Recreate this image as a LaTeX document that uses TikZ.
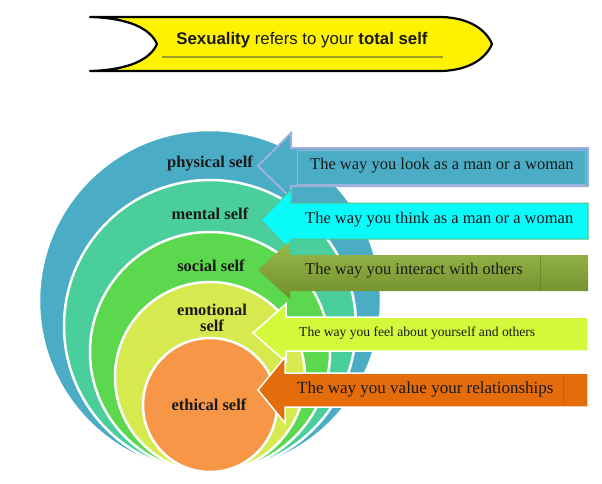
\documentclass[tikz,border=0pt]{standalone}
\usepackage{fontspec}
\setmainfont{Liberation Serif}
\newfontfamily\bannerfont{Liberation Sans}
\definecolor{SelfBlue}{RGB}{75, 172, 198}
\definecolor{SelfTeal}{RGB}{74, 206, 155}
\definecolor{SelfGreen}{RGB}{92, 216, 78}
\definecolor{SelfLime}{RGB}{214, 234, 80}
\definecolor{SelfOrange}{RGB}{247, 150, 70}
\definecolor{CalloutEdge}{RGB}{157, 177, 220}
\definecolor{CalloutCyan}{RGB}{10, 250, 250}
\definecolor{CalloutCyanEdge}{RGB}{80, 196, 140}
\definecolor{CalloutOliveTop}{RGB}{154, 186, 76}
\definecolor{CalloutOliveBottom}{RGB}{112, 142, 44}
\definecolor{CalloutLime}{RGB}{212, 248, 58}
\definecolor{CalloutOrange}{RGB}{228, 108, 10}
\definecolor{BannerLine}{RGB}{160, 158, 40}
\definecolor{TextDark}{RGB}{26, 26, 26}
\usetikzlibrary{positioning}

\tikzset{
  ring/.style={draw=white, line width=2.5pt},
  selflabel/.style={font=\bfseries\fontsize{16.5}{17}\selectfont, text=TextDark, align=center, inner sep=0pt},
  waytext/.style={font=\fontsize{16.5}{18}\selectfont, text=TextDark, anchor=west, inner sep=0pt},
}

\begin{document}
\begin{tikzpicture}[x=1pt, y=-1pt]
    \useasboundingbox (0,0) rectangle (602,484);

    \draw[fill=yellow, draw=black, line width=2.2pt, line join=round]
      (90,17) .. controls (128,18) and (150,28) .. (157,44)
      .. controls (150,60) and (128,70) .. (90,71)
      -- (442,71) .. controls (470,70) and (486,58) .. (492,44)
      .. controls (486,30) and (470,18) .. (442,17) -- cycle;
    \node[font=\bannerfont\fontsize{16.8}{18}\selectfont, text=TextDark, inner sep=0pt] (title) at (302,40)
      {\textbf{Sexuality} refers to your \textbf{total self}};
    \draw[BannerLine, line width=1.5pt] (162,57) -- (443,57);

    \fill[SelfBlue, ring] (210,301) circle[radius=171pt];
    \fill[SelfTeal, ring] (210,326) circle[radius=146pt];
    \fill[SelfGreen, ring] (210,352) circle[radius=120pt];
    \fill[SelfLime, ring] (210,377) circle[radius=95pt];
    \fill[SelfOrange, ring] (210,405) circle[radius=67pt];

    \node[selflabel] (physical) at (210,163) {physical self};
    \node[selflabel] (mental) at (210,214) {mental self};
    \node[selflabel] (social) at (211,266) {social self};
    \node[selflabel] (emotional) at (212,318) {emotional\\[-1pt]self};
    \node[selflabel] (ethical) at (209,405) {ethical self};

    \draw[fill=SelfBlue, draw=CalloutEdge, line width=2pt, line join=miter]
      (258,166) -- (291,133) -- (291,148) -- (588,148) -- (588,186) -- (291,186) -- (291,198) -- cycle;
    \draw[CalloutEdge, line width=1pt] (297,150) rectangle (585,184);
    \node[waytext] (look) at (310,166) {The way you look as a man or a woman};

    \draw[fill=CalloutCyan, draw=CalloutCyanEdge, line width=1pt]
      (261,220) -- (291,190) -- (291,203) -- (588,203) -- (588,239) -- (291,239) -- (291,251) -- cycle;
    \node[waytext] (think) at (305,220) {The way you think as a man or a woman};

    \shade[top color=CalloutOliveTop, bottom color=CalloutOliveBottom]
      (258,270) -- (290,241) -- (290,255) -- (588,255) -- (588,291) -- (290,291) -- (290,299) -- cycle;
    \draw[CalloutOliveBottom!80!black, line width=0.6pt, opacity=0.5] (540,255) -- (540,291);
    \node[waytext] (interact) at (305,271) {The way you interact with others};

    \draw[fill=CalloutLime, draw=white, line width=1.5pt]
      (253,333) -- (286,304) -- (286,317) -- (588,317) -- (588,351) -- (286,351) -- (286,362) -- cycle;
    \node[waytext, font=\fontsize{13.6}{15}\selectfont] (feel) at (299,333) {The way you feel about yourself and others};

    \draw[fill=CalloutOrange, draw=white, line width=1.5pt]
      (258,390) -- (285,357) -- (285,373) -- (588,373) -- (588,407) -- (285,407) -- (285,423) -- cycle;
    \draw[CalloutOrange!80!black, line width=0.6pt, opacity=0.5] (563,374) -- (563,406);
    \node[waytext, font=\fontsize{17}{18}\selectfont] (value) at (297,389) {The way you value your relationships};
  \end{tikzpicture}
\end{document}
